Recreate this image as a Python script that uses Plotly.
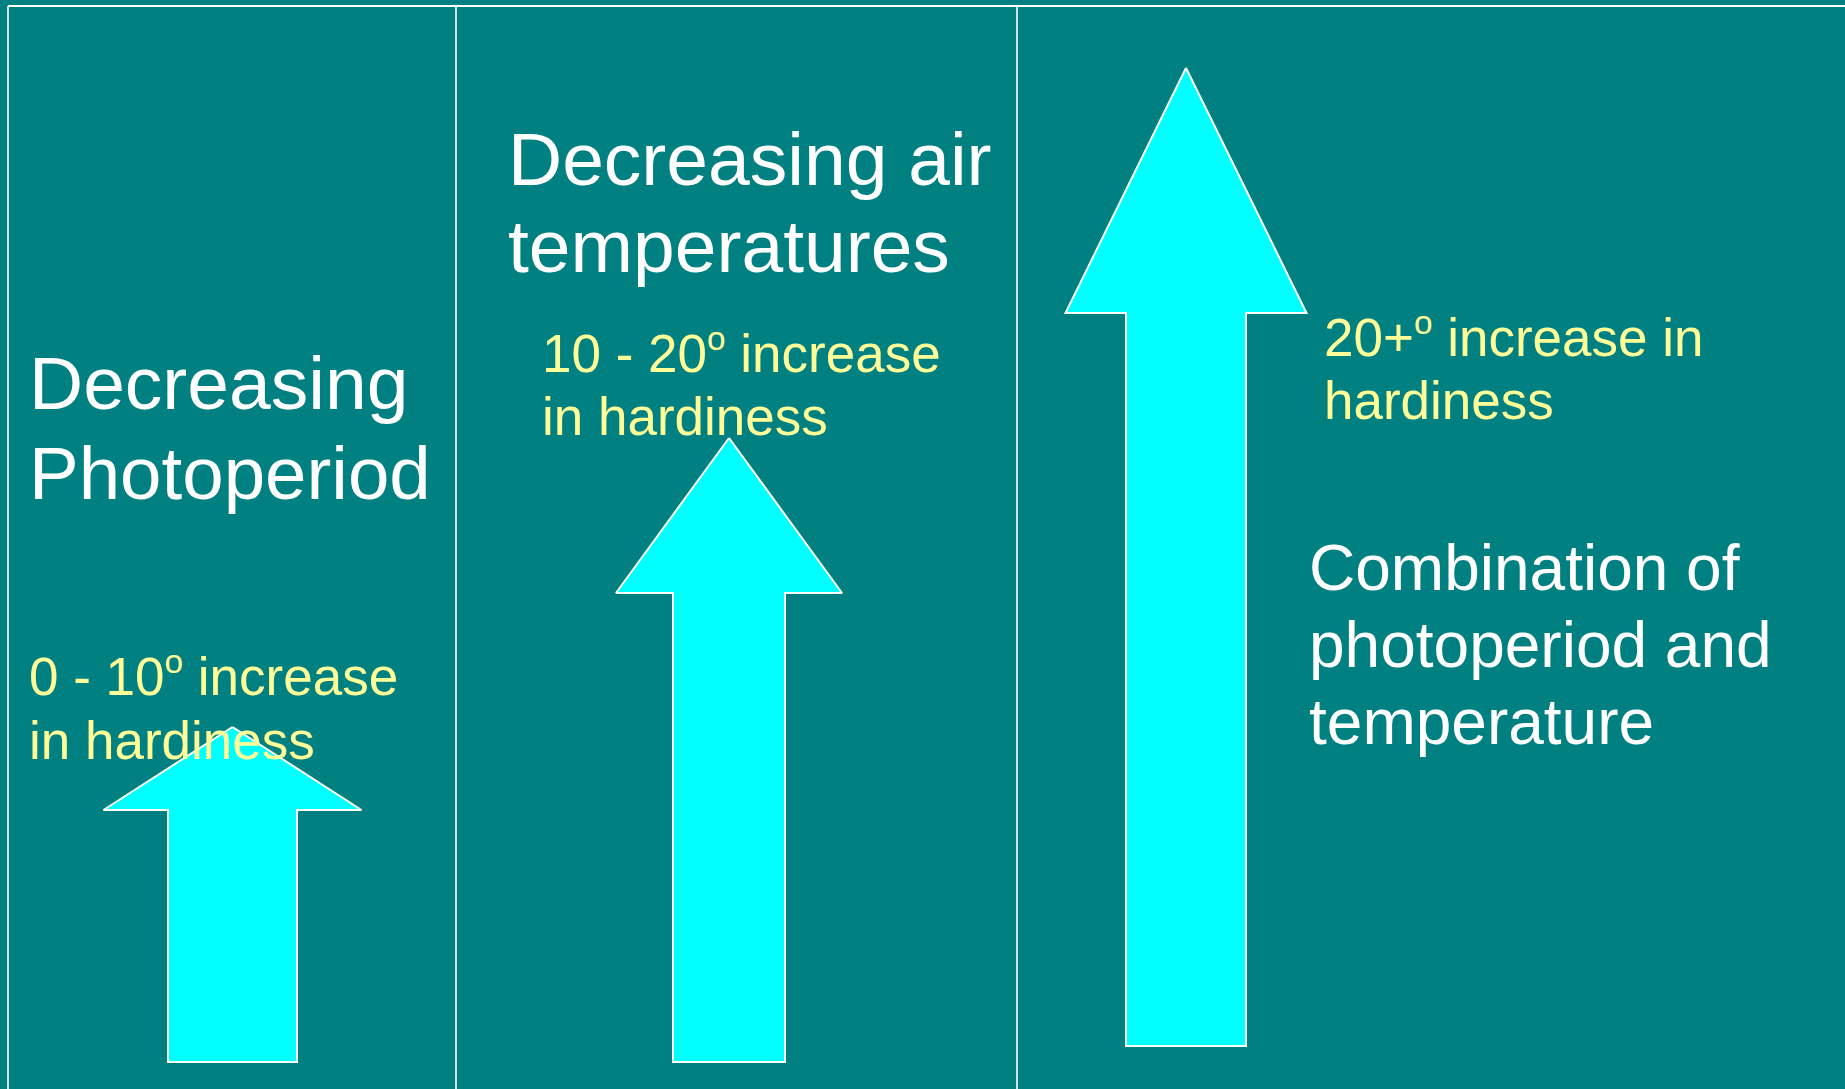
import plotly.graph_objects as go

W, H = 1845, 1089

# Panel dividers (x positions) and frame
divider_x = [8, 456, 1017]
frame_top = 6

# Up arrows: one per panel, growing with the hardiness gain
arrow_names = ["Photoperiod", "Air temperature", "Combined"]
arrow_center = [232.5, 729, 1186]
arrow_tip = [727, 438, 68]
arrow_head_base = [810, 593, 313]
arrow_bottom = [1062, 1062, 1046]
arrow_head_half = [129, 113, 120.5]
arrow_shaft_half = [64.5, 56, 60]

# Degree mark drawn as a small raised "o"
DEG = '<sup><span style="font-size:90%">o</span></sup>'

# Text lines: (text, left x, baseline y, size)
white_lines = [
    ("Decreasing", 28, 410, 75),
    ("Photoperiod", 28, 500, 74.5),
    ("Decreasing air", 507, 186, 75),
    ("temperatures", 507, 273, 75),
    ("Combination of", 1308, 591, 64),
    ("photoperiod and", 1308, 668, 64),
    ("temperature", 1308, 745, 64),
]
yellow_lines = [
    ("0 - 10" + DEG + " increase", 28, 696, 53),
    ("in hardiness", 28, 760, 53),
    ("10 - 20" + DEG + " increase", 541, 373, 53),
    ("in hardiness", 541, 436, 53),
    ("20+" + DEG + " increase in", 1323, 357, 53),
    ("hardiness", 1323, 420, 53),
]

BG = "#008080"
CYAN = "#00FFFF"
YELLOW = "#FFFF99"
FONT = "Arial, Liberation Sans, sans-serif"

fig = go.Figure()

# Frame lines
fig.add_trace(go.Scatter(
    x=[divider_x[0], W], y=[frame_top, frame_top], mode="lines",
    line=dict(color="white", width=2), hoverinfo="skip", showlegend=False))
for dx in divider_x:
    fig.add_trace(go.Scatter(
        x=[dx, dx], y=[frame_top, H], mode="lines",
        line=dict(color="white", width=1.6), hoverinfo="skip", showlegend=False))

# Arrows
for name, cx, tip, hb, bot, hh, sh in zip(arrow_names, arrow_center, arrow_tip,
                                         arrow_head_base, arrow_bottom,
                                         arrow_head_half, arrow_shaft_half):
    xs = [cx, cx + hh, cx + sh, cx + sh, cx - sh, cx - sh, cx - hh, cx]
    ys = [tip, hb, hb, bot, bot, hb, hb, tip]
    fig.add_trace(go.Scatter(
        x=xs, y=ys, mode="lines", fill="toself", fillcolor=CYAN,
        line=dict(color="white", width=2), name=name,
        hoverinfo="skip", showlegend=False))

# Text, placed by its baseline
def add_line(text, x, baseline, size, color):
    fig.add_annotation(
        x=x - 1, y=baseline + 0.212 * size + 1, xref="x", yref="y",
        text=text, showarrow=False, xanchor="left", yanchor="bottom",
        align="left", font=dict(family=FONT, size=size, color=color))

for t, x, b, s in white_lines:
    add_line(t, x, b, s, "white")
for t, x, b, s in yellow_lines:
    add_line(t, x, b, s, YELLOW)

fig.update_layout(
    width=W, height=H, margin=dict(l=0, r=0, t=0, b=0),
    paper_bgcolor=BG, plot_bgcolor=BG,
    xaxis=dict(range=[0, W], visible=False, fixedrange=True),
    yaxis=dict(range=[H, 0], visible=False, fixedrange=True),
    showlegend=False,
)

fig.write_html("out.html", config={"displayModeBar": False})
